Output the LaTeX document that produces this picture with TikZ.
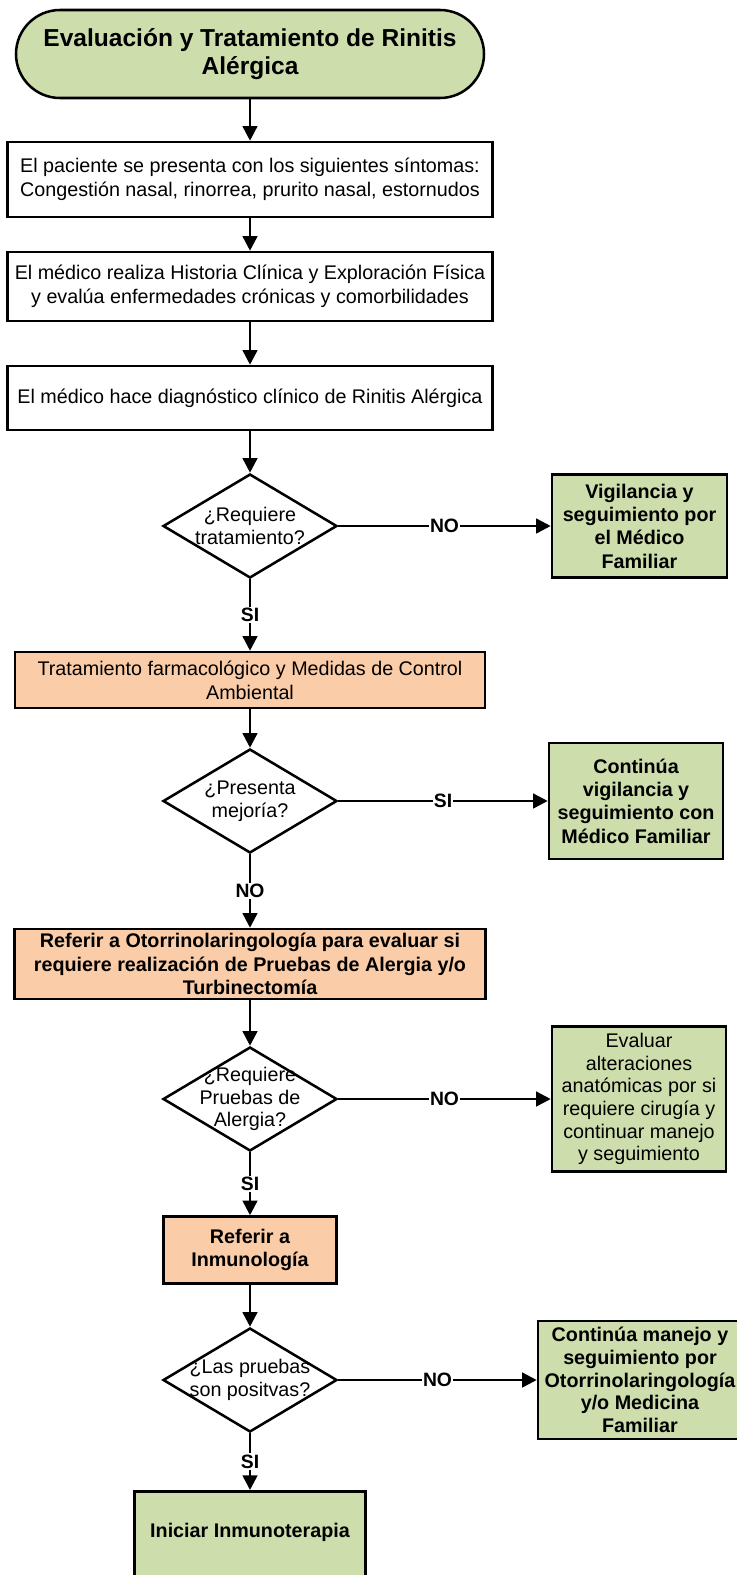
\documentclass[tikz,border=0pt]{standalone}
\usepackage{fontspec}
\setmainfont{Liberation Sans}
\usetikzlibrary{shapes.geometric}
\usetikzlibrary{arrows.meta}
\definecolor{verde}{RGB}{205,221,172}
\definecolor{durazno}{RGB}{250,204,168}

\begin{document}
\begin{tikzpicture}[x = 0.75pt, y = -0.75pt,
        caja/.style = {draw, line width = 1.9pt, align = center, inner sep = 2pt,
            font = \fontsize{14.8}{18}\selectfont},
        cajanegrita/.style = {caja, font = \bfseries\fontsize{14.8}{17.5}\selectfont},
        decision/.style = {draw, diamond, line width = 1.9pt, fill = white, inner sep = 0pt,
            minimum width = 130.5pt, minimum height = 78pt},
        textodec/.style = {align = center, inner sep = 0pt, font = \fontsize{14.8}{17}\selectfont},
        flecha/.style = {line width = 1.9pt, -{Triangle[width = 11pt, length = 11pt]}},
        etiq/.style = {fill = white, inner sep = 1pt, font = \bfseries\fontsize{14.5}{16}\selectfont}
    ]
        \useasboundingbox (0, 0) rectangle (736, 1575);

        \node[draw, line width = 1.9pt, fill = verde, rounded corners = 33pt, align = center,
            minimum width = 351pt, minimum height = 66pt,
            font = \bfseries\fontsize{18.4}{21}\selectfont] (inicio) at (250, 54)
            {Evaluación y Tratamiento de Rinitis\\Alérgica};

        \node[caja, minimum width = 363.75pt, minimum height = 56.25pt] (sintomas) at (250, 179.5)
            {El paciente se presenta con los siguientes síntomas:\\Congestión nasal, rinorrea, prurito nasal, estornudos};
        \node[caja, minimum width = 363.75pt, minimum height = 51.75pt] (historia) at (250, 286.5)
            {El médico realiza Historia Clínica y Exploración Física\\y evalúa enfermedades crónicas y comorbilidades};
        \node[caja, minimum width = 363.75pt, minimum height = 48pt] (diagnostico) at (250, 398)
            {El médico hace diagnóstico clínico de Rinitis Alérgica};

        \node[decision, label = {[textodec]center:{¿Requiere\\tratamiento?}}] (reqtrat) at (250, 526) {};
        \node[cajanegrita, fill = verde, minimum width = 131.25pt, minimum height = 77.25pt] (vigilancia) at (639.5, 526)
            {Vigilancia y\\seguimiento por\\el Médico\\Familiar};

        \node[caja, fill = durazno, minimum width = 352.5pt, minimum height = 42pt] (tratamiento) at (250, 680)
            {Tratamiento farmacológico y Medidas de Control\\Ambiental};

        \node[decision, label = {[textodec]center:{¿Presenta\\mejoría?}}] (mejoria) at (250, 801) {};
        \node[cajanegrita, fill = verde, minimum width = 130.5pt, minimum height = 87pt] (continua) at (636, 801)
            {Continúa\\vigilancia y\\seguimiento con\\Médico Familiar};

        \node[cajanegrita, fill = durazno, minimum width = 353.25pt, minimum height = 52.5pt] (otorrino) at (250, 964)
            {Referir a Otorrinolaringología para evaluar si\\requiere realización de Pruebas de Alergia y/o\\Turbinectomía};

        \node[decision, label = {[textodec]center:{¿Requiere\\Pruebas de\\Alergia?}}] (reqpruebas) at (250, 1099) {};
        \node[caja, fill = verde, minimum width = 130.5pt, minimum height = 108.75pt,
            font = \fontsize{14.8}{17}\selectfont] (evaluar) at (639, 1099)
            {Evaluar\\alteraciones\\anatómicas por si\\requiere cirugía y\\continuar manejo\\y seguimiento};

        \node[cajanegrita, fill = durazno, minimum width = 129.75pt, minimum height = 50.25pt] (inmuno) at (250, 1250)
            {Referir a\\Inmunología};

        \node[decision, label = {[textodec]center:{¿Las pruebas\\son positvas?}}] (positivas) at (250, 1380) {};
        \node[cajanegrita, fill = verde, minimum width = 153pt, minimum height = 88.5pt,
            font = \bfseries\fontsize{14.8}{17}\selectfont] (manejo) at (640, 1380)
            {Continúa manejo y\\seguimiento por\\Otorrinolaringología\\y/o Medicina\\Familiar};

        \node[cajanegrita, fill = verde, anchor = north, minimum width = 173.25pt, inner ysep = 0pt,
            text height = 35pt, text depth = 45pt] (inmunoterapia) at (250, 1490)
            {Iniciar Inmunoterapia};

        \foreach \a/\b in {inicio/sintomas, sintomas/historia, historia/diagnostico, diagnostico/reqtrat,
            tratamiento/mejoria, otorrino/reqpruebas, inmuno/positivas}
            {
                \draw[flecha] (\a) -- (\b);
            }

        \draw[flecha] (reqtrat) -- node[etiq] {NO} (vigilancia);
        \draw[flecha] (reqtrat) -- node[etiq] {SI} (tratamiento);
        \draw[flecha] (mejoria) -- node[etiq] {SI} (continua);
        \draw[flecha] (mejoria) -- node[etiq] {NO} (otorrino);
        \draw[flecha] (reqpruebas) -- node[etiq] {NO} (evaluar);
        \draw[flecha] (reqpruebas) -- node[etiq] {SI} (inmuno);
        \draw[flecha] (positivas) -- node[etiq] {NO} (manejo);
        \draw[flecha] (positivas) -- node[etiq] {SI} (inmunoterapia);
    \end{tikzpicture}
\end{document}
